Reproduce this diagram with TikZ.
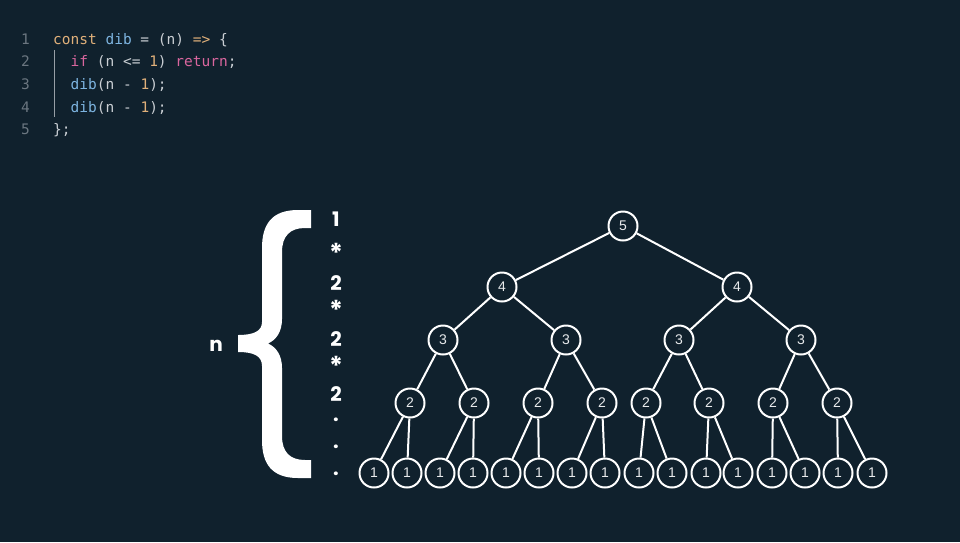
\documentclass[tikz,border=0pt]{standalone}
\usepackage{fontspec}
\setmainfont{Liberation Sans}
\newfontfamily\codefont{DejaVu Sans Mono}
\newfontfamily\headfont{Poppins}
\definecolor{bgcol}{HTML}{10212D}
\definecolor{codegrey}{HTML}{6B7680}
\definecolor{codetext}{HTML}{C9CED3}
\definecolor{codetan}{HTML}{E0B07A}
\definecolor{codeblue}{HTML}{7DB4E0}
\definecolor{codepink}{HTML}{D9669E}
\definecolor{numcol}{HTML}{E8EAEC}
\newcommand\ckw[1]{\textcolor{codepink}{#1}}
\newcommand\cfn[1]{\textcolor{codeblue}{#1}}
\newcommand\cnm[1]{\textcolor{codetan}{#1}}
\begin{document}
\begin{tikzpicture}[x=1pt, y=-1pt,
    num/.style={circle, draw=white, line width=2pt, fill=bgcol, minimum size=29pt,
        inner sep=0pt, text=numcol, font=\fontsize{14}{16}\selectfont},
    link/.style={white, line width=2pt},
    code/.style={anchor=base west, inner sep=0pt, text=codetext,
        font=\codefont\fontsize{14.5}{17}\selectfont},
    lnum/.style={anchor=base, inner sep=0pt, text=codegrey,
        font=\codefont\fontsize{14.5}{17}\selectfont},
    prod/.style={anchor=base, inner sep=0pt, text=white,
        font=\headfont\bfseries\fontsize{20}{24}\selectfont},
    star/.style={prod, font=\headfont\bfseries\fontsize{26}{28}\selectfont}]
    \fill[bgcol] (0,0) rectangle (960,542);
    \useasboundingbox (0,0) rectangle (960,542);

    % code
    \foreach \i/\y in {1/44, 2/66.7, 3/89.3, 4/112, 5/134.6} {
        \node[lnum] (ln\i) at (25.5,\y) {\i};
    }
    \node[code] (c1) at (53,44) {\cnm{const} \cfn{dib} = (n) \cnm{=>} \{};
    \node[code] (c2) at (70.5,66.7) {\ckw{if} (n <= \cnm{1}) \ckw{return};};
    \node[code] (c3) at (70.5,89.3) {\cfn{dib}(n - \cnm{1});};
    \node[code] (c4) at (70.5,112) {\cfn{dib}(n - \cnm{1});};
    \node[code] (c5) at (53,134.6) {\};};
    \draw[codegrey!70, line width=1pt] (54,50) -- (54,117);

    % brace
    \fill[white] (311,210) -- (298,210)
        .. controls (272,210) and (262,224) .. (262,248) -- (262,322)
        .. controls (262,331) and (254,335) .. (238,335) -- (238,352)
        .. controls (254,352) and (262,356) .. (262,366) -- (262,440)
        .. controls (262,464) and (272,478) .. (298,478) -- (311,478) -- (311,460)
        -- (305,460) .. controls (290,460) and (282,452) .. (282,436) -- (282,368)
        .. controls (282,355) and (276,347) .. (268,343.5)
        .. controls (276,340) and (282,332) .. (282,319) -- (282,252)
        .. controls (282,236) and (290,228) .. (305,228) -- (311,228) -- cycle;
    \node[prod] (n) at (216,351.7) {n};
    \foreach \t/\y [count=\i] in {1/226.7, 2/290, 2/346.7, 2/401.7, ./421, ./448, ./475} {
        \node[prod] (s\i) at (336,\y) {\t};
    }
    \foreach \y [count=\i] in {262.5, 319.2, 375.5} {
        \node[star] (m\i) at (336,\y) {*};
    }

    % tree
    \foreach \x [count=\i] in {374,407,440,473,506,539,572,605,639,672,706,738,772,805,838,872} {
        \node[num] (a\i) at (\x,473) {1};
    }
    \foreach \x [count=\i] in {410,474,538,602,646,709,773,837} {
        \node[num] (b\i) at (\x,403) {2};
    }
    \foreach \x [count=\i] in {443,566,679,801} {
        \node[num] (c\i) at (\x,340) {3};
    }
    \node[num] (d1) at (502,287) {4};
    \node[num] (d2) at (737,287) {4};
    \node[num] (e1) at (623,226) {5};
    \foreach \i in {1,...,8} {
        \draw[link] (b\i) -- (a\the\numexpr2*\i-1\relax);
        \draw[link] (b\i) -- (a\the\numexpr2*\i\relax);
    }
    \foreach \i in {1,...,4} {
        \draw[link] (c\i) -- (b\the\numexpr2*\i-1\relax);
        \draw[link] (c\i) -- (b\the\numexpr2*\i\relax);
    }
    \foreach \i in {1,2} {
        \draw[link] (d\i) -- (c\the\numexpr2*\i-1\relax);
        \draw[link] (d\i) -- (c\the\numexpr2*\i\relax);
        \draw[link] (e1) -- (d\i);
    }
\end{tikzpicture}
\end{document}
